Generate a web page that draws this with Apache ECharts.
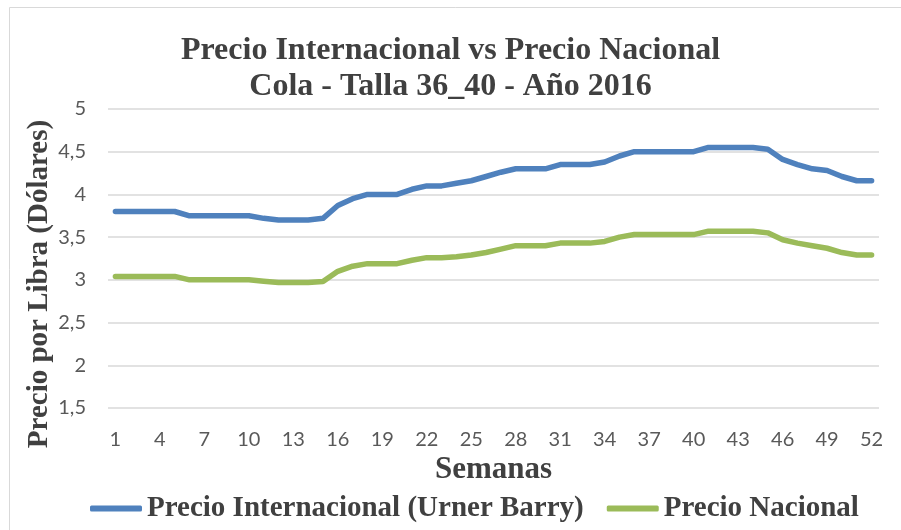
<!DOCTYPE html>
<html>
<head>
<meta charset="utf-8">
<script src="https://cdn.jsdelivr.net/npm/echarts@6/dist/echarts.min.js"></script>
<style>html,body{margin:0;padding:0;background:#fff}#c{width:901px;height:530px}</style>
</head>
<body>
<div id="c"></div>
<script>
var semanas = [];
for (var k = 1; k <= 52; k++) semanas.push(String(k));

var precioInternacional = [3.80,3.80,3.80,3.80,3.80,3.75,3.75,3.75,3.75,3.75,
  3.72,3.70,3.70,3.70,3.72,3.87,3.95,4.00,4.00,4.00,
  4.06,4.10,4.10,4.13,4.16,4.21,4.26,4.30,4.30,4.30,
  4.35,4.35,4.35,4.38,4.45,4.50,4.50,4.50,4.50,4.50,
  4.55,4.55,4.55,4.55,4.53,4.41,4.35,4.30,4.28,4.21,
  4.16,4.16];

var precioNacional = [3.04,3.04,3.04,3.04,3.04,3.00,3.00,3.00,3.00,3.00,
  2.985,2.97,2.97,2.97,2.98,3.10,3.16,3.19,3.19,3.19,
  3.23,3.26,3.26,3.27,3.29,3.32,3.36,3.40,3.40,3.40,
  3.43,3.43,3.43,3.45,3.50,3.53,3.53,3.53,3.53,3.53,
  3.57,3.57,3.57,3.57,3.55,3.47,3.43,3.40,3.37,3.32,
  3.29,3.29];

var yTickValues = [1.5,2,2.5,3,3.5,4,4.5,5];
var yTickLabels = ['1,5','2','2,5','3','3,5','4','4,5','5'];

var serif = '"Liberation Serif","Times New Roman",serif';
var sans = 'Lato,"Liberation Sans",sans-serif';

var chart = echarts.init(document.getElementById('c'), null, {renderer: 'canvas'});
chart.setOption({
  animation: false,
  backgroundColor: '#fff',
  title: {
    text: 'Precio Internacional vs Precio Nacional\nCola - Talla 36_40 - Año 2016',
    left: 'center',
    top: 28,
    textStyle: {fontFamily: serif, fontWeight: 'bold', fontSize: 32, lineHeight: 36, color: '#404040'}
  },
  legend: {
    left: 85,
    top: 489,
    itemWidth: 52,
    itemHeight: 6,
    itemGap: 23,
    icon: 'roundRect',
    textStyle: {fontFamily: serif, fontWeight: 'bold', fontSize: 29, color: '#404040'},
    data: ['Precio Internacional (Urner Barry)', 'Precio Nacional']
  },
  grid: {left: 108, right: 22, top: 109, bottom: 122, containLabel: false},
  xAxis: {
    type: 'category',
    data: semanas,
    boundaryGap: true,
    axisLine: {show: false},
    axisTick: {show: false},
    axisLabel: {interval: 2, margin: 22, fontFamily: sans, fontSize: 20, color: '#595959'},
    name: 'Semanas',
    nameLocation: 'middle',
    nameGap: 46,
    nameTextStyle: {fontFamily: serif, fontWeight: 'bold', fontSize: 31, color: '#404040'}
  },
  yAxis: {
    type: 'value',
    min: 1.5,
    max: 5,
    interval: 0.5,
    axisLine: {show: false},
    axisTick: {show: false},
    splitLine: {lineStyle: {color: '#d9d9d9', width: 1.5}},
    axisLabel: {
      margin: 22, fontFamily: sans, fontSize: 20, color: '#595959',
      formatter: function (v) {
        var i = yTickValues.indexOf(Math.round(v * 10) / 10);
        return i >= 0 ? yTickLabels[i] : String(v);
      }
    }
  },
  graphic: [
    {type: 'rect', shape: {x: 9.5, y: 7.5, width: 1000, height: 1000}, style: {fill: 'none', stroke: '#d9d9d9', lineWidth: 1}, silent: true},
    {type: 'text', x: 40, y: 284, rotation: Math.PI / 2,
     style: {text: 'Precio por Libra (Dólares)', fontFamily: serif, fontWeight: 'bold', fontSize: 29, fill: '#404040', align: 'center', verticalAlign: 'middle'}}
  ],
  series: [
    {name: 'Precio Internacional (Urner Barry)', type: 'line', data: precioInternacional, showSymbol: false, symbol: 'none',
     itemStyle: {color: '#4f81bd'}, lineStyle: {color: '#4f81bd', width: 5.5, cap: 'round', join: 'round'}},
    {name: 'Precio Nacional', type: 'line', data: precioNacional, showSymbol: false, symbol: 'none',
     itemStyle: {color: '#9bbb59'}, lineStyle: {color: '#9bbb59', width: 5.5, cap: 'round', join: 'round'}}
  ]
});
</script>
</body>
</html>
